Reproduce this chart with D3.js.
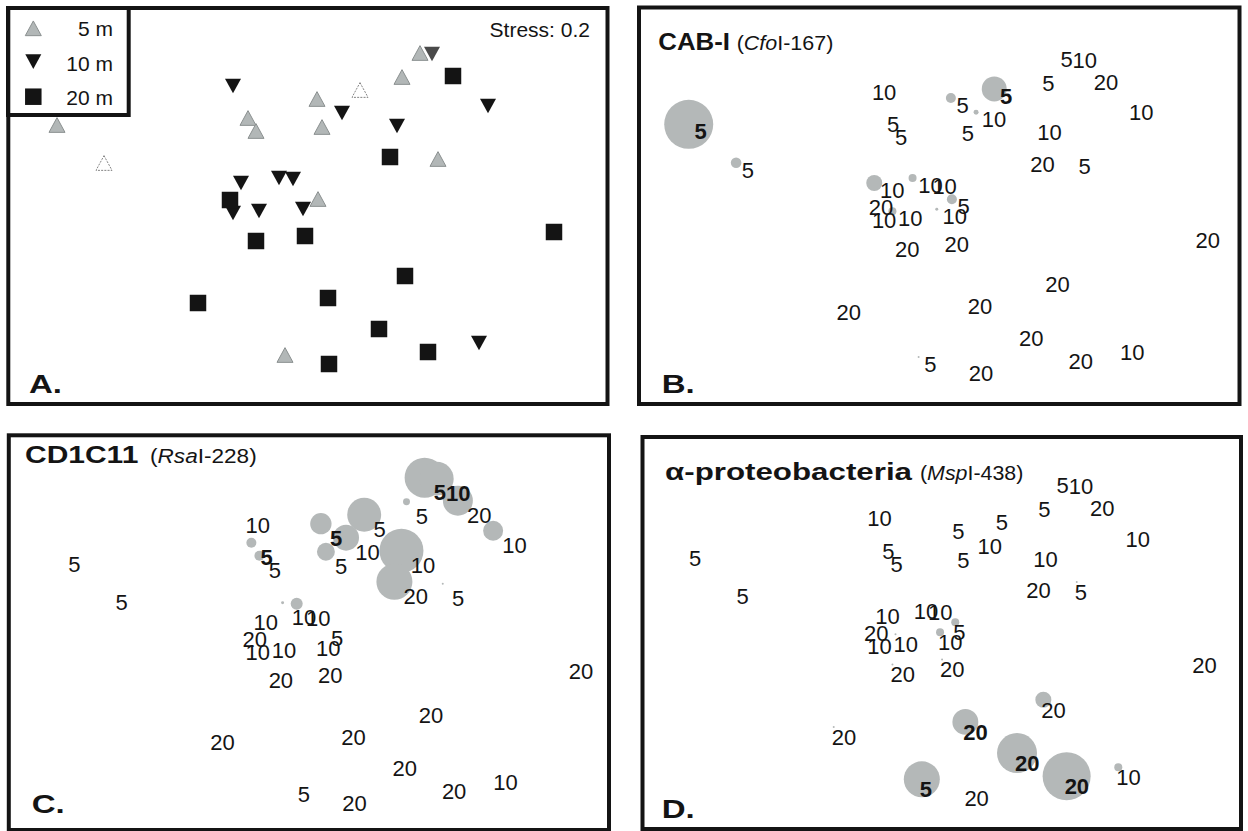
<!DOCTYPE html>
<html>
<head>
<meta charset="utf-8">
<script src="https://cdn.jsdelivr.net/npm/d3@7"></script>
<style>
  body { margin: 0; background: #fff; }
  svg { display: block; }
  text { font-family: "Liberation Sans", Arial, Helvetica, sans-serif; }
</style>
</head>
<body>
<svg id="fig" width="1248" height="831"></svg>
<script>
// ---- Sample data: 36 samples (12 per depth), nMDS ordination coordinates ----
const depth = [
  5, 5, 5, 5, 5, 5, 5, 5, 5, 5, 5, 5,
  10, 10, 10, 10, 10, 10, 10, 10, 10, 10, 10, 10,
  20, 20, 20, 20, 20, 20, 20, 20, 20, 20, 20, 20
];
const mds1 = [
  -2.50, -2.03, -0.59, -0.51, 1.13, 0.95, 0.53, 0.10, 0.15, 1.31, 0.11, -0.22,
  -0.74, 1.25, 0.35, 0.90, 1.81, -0.66, -0.28, -0.14, -0.74, -0.48, -0.04, 1.72,
  -0.77, -0.51, -0.02, -1.09, 1.46, 0.83, 2.47, 0.98, 0.21, 0.72, 1.21, 0.22
];
const mds2 = [
  0.82, 0.44, 0.89, 0.76, 1.54, 1.30, 1.17, 1.08, 0.80, 0.48, 0.08, -1.48,
  1.21, 1.53, 0.94, 0.81, 1.01, 0.24, 0.29, 0.28, -0.06, -0.04, -0.02, -1.36,
  0.07, -0.34, -0.29, -0.96, 1.31, 0.50, -0.25, -0.69, -0.91, -1.22, -1.45, -1.57
];

// Relative peak area (%) of each indicator T-RF, same sample order
const cabI = [
  30, 1.4, 0, 0, 0, 0, 7.8, 1.25, 0, 0, 1.25, 0.05,
  0, 0, 0.31, 0, 0, 3.2, 0.8, 0, 0, 0.8, 0.11, 0,
  0, 0, 0, 0, 0, 0, 0, 0, 0, 0, 0, 0
];
const cd1c11 = [
  0, 0, 1.25, 1.25, 20, 0.6, 14.4, 5.7, 4.0, 0.05, 0, 0,
  0, 14.4, 8.4, 24.2, 5.0, 0, 0.11, 1.8, 0, 0, 0, 0,
  0, 0, 0, 0, 11.2, 16.2, 0, 0, 0, 0, 0, 0
];
const alphaProteo = [
  0, 0, 0, 0, 0, 0, 0, 0, 0, 0.05, 0.8, 16.2,
  0, 0, 0, 0, 0, 0, 0, 0, 0, 0.05, 0.8, 0.8,
  0, 0.05, 0.05, 0.05, 0, 0, 0, 3.2, 8.4, 20, 28.8, 0
];

const legendDepths = [5, 10, 20];
const stressValue = 0.2;

// ---- Drawing ----
const svg = d3.select("#fig");
const LABEL_FS = 22;
const BUBBLE = "#b4b8b8";
const INK = "#141414";

// triangles centred on their bounding box
function triangle(down) {
  return {
    draw(ctx, size) {
      const w = Math.sqrt(size), h = w * 0.92, s = down ? -1 : 1;
      ctx.moveTo(0, -s * h / 2);
      ctx.lineTo(w / 2, s * h / 2);
      ctx.lineTo(-w / 2, s * h / 2);
      ctx.closePath();
    }
  };
}
const symUp = d3.symbol().type(triangle(false)).size(256)();
const symDown = d3.symbol().type(triangle(true)).size(256)();
const symSquare = d3.symbol().type(d3.symbolSquare).size(272)();

const samples = depth.map((d, i) => ({ i, depth: d, m1: mds1[i], m2: mds2[i] }));
const hollowSamples = [1, 6];   // faint open markers in the ordination plot
const greySample = 13;

const rScale = d3.scaleSqrt().domain([0, 30]).range([0, 24.5]);

const panels = [
  { id: "A", box: [8.3, 8, 607.5, 404], xr: [7, 607], yr: [7, 407], letter: [29, 393] },
  { id: "B", box: [639, 7.5, 1239.5, 404], xr: [638.3, 1243.3], yr: [4.9, 409.7],
    values: cabI, lab: [5.7, 15.1], letter: [661.7, 392.7],
    title: { bold: "CAB-I", bx: 658.3, bw: 71.7, genus: "Cfo", rest: "I-167", rx: 736.7, rw: 96.6, y: 50 } },
  { id: "C", box: [8.8, 435.3, 609, 830], xr: [8.6, 613], yr: [431.6, 832],
    values: cd1c11, lab: [9.2, 22.3], letter: [31.7, 813.3],
    title: { bold: "CD1C11", bx: 25, bw: 113.3, genus: "Rsa", rest: "I-228", rx: 150, rw: 106.7, y: 463.3 } },
  { id: "D", box: [642.5, 437, 1241, 829], xr: [640.3, 1247.9], yr: [429, 831.6],
    values: alphaProteo, lab: [-2, 17.9], letter: [661.7, 818.3],
    title: { bold: "\u03b1-proteobacteria", bx: 665, bw: 247, genus: "Msp", rest: "I-438", rx: 920, rw: 103.3, y: 480 } }
];

panels.forEach(p => {
  const g = svg.append("g").attr("class", "panel-" + p.id);
  const x = d3.scaleLinear().domain([-3, 3]).range(p.xr);
  const y = d3.scaleLinear().domain([2, -2]).range(p.yr);

  if (p.id === "A") {
    // ordination with depth symbols
    const order = [5, 10, 20];
    order.forEach(dep => {
      const pts = samples.filter(s => s.depth === dep);
      g.selectAll(null).data(pts).join("path")
        .attr("transform", s => `translate(${x(s.m1)},${y(s.m2)})`)
        .attr("d", dep === 5 ? symUp : dep === 10 ? symDown : symSquare)
        .attr("fill", s => {
          if (hollowSamples.includes(s.i)) return "#fff";
          if (s.i === greySample) return "#4a4a4a";
          return dep === 5 ? "#b2b7b7" : INK;
        })
        .attr("stroke", s => hollowSamples.includes(s.i) ? "#666" : dep === 5 ? "#8b9090" : "none")
        .attr("stroke-width", s => hollowSamples.includes(s.i) ? 0.8 : 1)
        .attr("stroke-dasharray", s => hollowSamples.includes(s.i) ? "2,1.2" : null);
    });

    // legend
    const lg = g.append("g");
    const shapes = [symUp, symDown, symSquare];
    const ly = [28.3, 61.7, 96.7];
    const ty = [36, 70.5, 105];
    legendDepths.forEach((d, k) => {
      lg.append("path").attr("d", shapes[k])
        .attr("transform", `translate(33.3,${ly[k]})`)
        .attr("fill", k === 0 ? "#b2b7b7" : INK)
        .attr("stroke", k === 0 ? "#8b9090" : "none");
      lg.append("text").attr("x", 113).attr("y", ty[k])
        .attr("text-anchor", "end").attr("font-size", 21).attr("fill", INK)
        .text(d + " m");
    });
    lg.append("rect").attr("x", 8).attr("y", 8).attr("width", 120.7).attr("height", 107)
      .attr("fill", "none").attr("stroke", INK).attr("stroke-width", 4);

    g.append("text").attr("x", 590).attr("y", 36.7).attr("text-anchor", "end")
      .attr("font-size", 21).attr("fill", INK).text("Stress: " + stressValue);
  } else {
    const vals = p.values;
    const bubbles = samples.filter(s => vals[s.i] > 0);
    g.selectAll(null).data(bubbles).join("circle")
      .attr("cx", s => x(s.m1)).attr("cy", s => y(s.m2))
      .attr("r", s => rScale(vals[s.i]))
      .attr("fill", BUBBLE);

    // label placement and weight (bold where the label sits on a bubble)
    const labels = samples.map(s => {
      const txt = String(s.depth);
      const lx = x(s.m1) + p.lab[0];
      const ly = y(s.m2) + p.lab[1];
      const cx = lx + 0.556 * LABEL_FS * txt.length / 2;
      const cy = ly - 0.358 * LABEL_FS;
      const onBubble = bubbles.some(b => {
        const r = rScale(vals[b.i]);
        return r > 2 && Math.hypot(cx - x(b.m1), cy - y(b.m2)) < r + 3;
      });
      return { txt, lx, ly, bold: onBubble };
    });
    g.selectAll(null).data(labels).join("text")
      .attr("x", d => d.lx).attr("y", d => d.ly)
      .attr("font-size", LABEL_FS)
      .attr("font-weight", d => d.bold ? "bold" : "normal")
      .attr("fill", INK)
      .text(d => d.txt);

    // title: probe group (bold) and enzyme/fragment (regular, genus part italic)
    const t = p.title;
    g.append("text").attr("x", t.bx).attr("y", t.y)
      .attr("font-size", 23).attr("font-weight", "bold").attr("fill", INK)
      .attr("textLength", t.bw).attr("lengthAdjust", "spacingAndGlyphs")
      .text(t.bold);
    const rt = g.append("text").attr("x", t.rx).attr("y", t.y)
      .attr("font-size", 20).attr("fill", INK)
      .attr("textLength", t.rw).attr("lengthAdjust", "spacingAndGlyphs");
    rt.append("tspan").text("(");
    rt.append("tspan").attr("font-style", "italic").text(t.genus);
    rt.append("tspan").text(t.rest + ")");
  }

  // panel letter
  g.append("text").attr("x", p.letter[0]).attr("y", p.letter[1])
    .attr("font-size", 25).attr("font-weight", "bold").attr("fill", INK)
    .attr("textLength", 33).attr("lengthAdjust", "spacingAndGlyphs")
    .text(p.id + ".");

  // panel frame
  const [x0, y0, x1, y1] = p.box;
  g.append("rect").attr("x", x0).attr("y", y0).attr("width", x1 - x0).attr("height", y1 - y0)
    .attr("fill", "none").attr("stroke", INK).attr("stroke-width", 4);
});
</script>
</body>
</html>
